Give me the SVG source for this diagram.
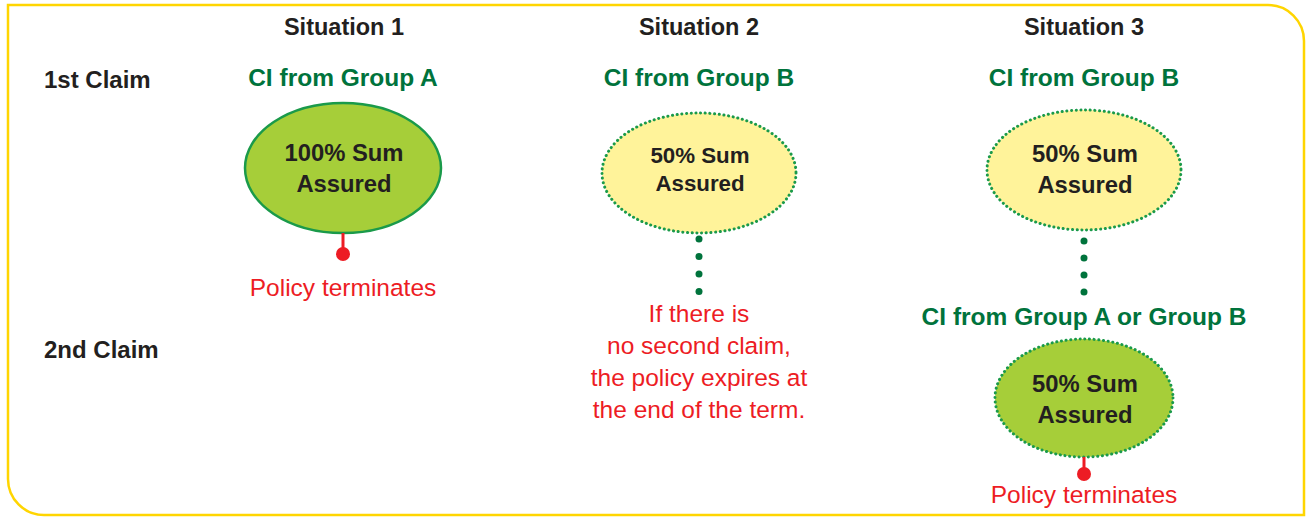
<svg xmlns="http://www.w3.org/2000/svg" width="1308" height="517" viewBox="0 0 1308 517">
<style>
text{font-family:"Liberation Sans",Arial,sans-serif;text-anchor:middle}
.hd{font-size:23.5px;font-weight:bold;fill:#231F20}
.row{font-size:24px;font-weight:bold;fill:#231F20;text-anchor:start}
.ci{font-size:24.5px;font-weight:bold;fill:#00733C}
.in{font-size:23.8px;font-weight:bold;fill:#231F20}
.red{font-size:24.5px;fill:#ED1C24}
.solid{fill:#A6CE39;stroke:#1A9A4A;stroke-width:2.5}
.dotY{fill:#FFF39A;stroke:#1A9A4A;stroke-width:3;stroke-dasharray:0.1 4.6;stroke-linecap:round}
.dotG{fill:#A6CE39;stroke:#1A9A4A;stroke-width:3;stroke-dasharray:0.1 4.6;stroke-linecap:round}
.dot{fill:#00733C}
.stem{stroke:#ED1C24;stroke-width:3}
.pin{fill:#ED1C24}
</style>
<path d="M8,5 H1268 A36,36 0 0 1 1304,41 V515 H44 A36,36 0 0 1 8,479 Z" fill="none" stroke="#FFD500" stroke-width="2.5"/>
<g id="headers">
<text class="hd" x="344" y="35">Situation 1</text>
<text class="hd" x="699" y="35">Situation 2</text>
<text class="hd" x="1084" y="35">Situation 3</text>
<text class="row" x="44" y="88">1st Claim</text>
<text class="row" x="44" y="358">2nd Claim</text>
</g>
<g id="s1">
<text class="ci" x="343" y="86">CI from Group A</text>
<ellipse class="solid" cx="343" cy="168" rx="98" ry="65"/>
<text class="in" x="344" y="161">100% Sum</text>
<text class="in" x="344" y="192">Assured</text>
</g>
<g id="s1end">
<text class="red" x="343" y="296">Policy terminates</text>
</g>
<g id="s2">
<text class="ci" x="699" y="86">CI from Group B</text>
<ellipse class="dotY" cx="699" cy="173" rx="97" ry="60"/>
<text class="in" x="700" y="163" style="font-size:22.3px">50% Sum</text>
<text class="in" x="700" y="191" style="font-size:22.3px">Assured</text>
</g>
<g id="s2note">
<text class="red" x="699" y="322">If there is</text>
<text class="red" x="699" y="354">no second claim,</text>
<text class="red" x="699" y="386">the policy expires at</text>
<text class="red" x="699" y="418">the end of the term.</text>
</g>
<g id="s3a">
<text class="ci" x="1084" y="86">CI from Group B</text>
<ellipse class="dotY" cx="1084" cy="170" rx="97" ry="60"/>
<text class="in" x="1085" y="162">50% Sum</text>
<text class="in" x="1085" y="193">Assured</text>
</g>
<g id="s3b">
<text class="ci" x="1084" y="325">CI from Group A or Group B</text>
<ellipse class="dotG" cx="1084" cy="398" rx="89" ry="59"/>
<text class="in" x="1085" y="392">50% Sum</text>
<text class="in" x="1085" y="423">Assured</text>
</g>
<g id="s3end">
<text class="red" x="1084" y="503">Policy terminates</text>
</g>
<g id="connectors">
<line class="stem" x1="343" y1="233" x2="343" y2="254"/>
<circle class="pin" cx="343" cy="254" r="7"/>
<circle class="dot" cx="699" cy="239" r="3.5"/>
<circle class="dot" cx="699" cy="256.5" r="3.5"/>
<circle class="dot" cx="699" cy="274" r="3.5"/>
<circle class="dot" cx="699" cy="291.5" r="3.5"/>
<circle class="dot" cx="1084" cy="241" r="3.5"/>
<circle class="dot" cx="1084" cy="258" r="3.5"/>
<circle class="dot" cx="1084" cy="275" r="3.5"/>
<circle class="dot" cx="1084" cy="292" r="3.5"/>
<line class="stem" x1="1084" y1="457" x2="1084" y2="474"/>
<circle class="pin" cx="1084" cy="474" r="7"/>
</g>
</svg>
